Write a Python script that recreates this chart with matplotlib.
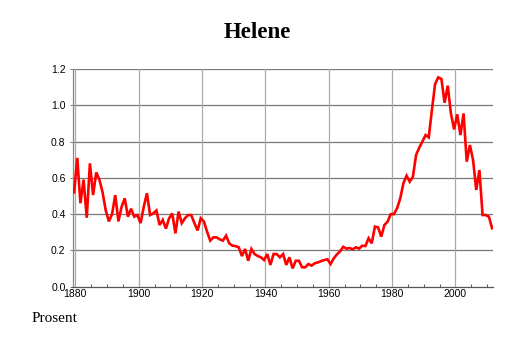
import matplotlib
matplotlib.use("Agg")
import matplotlib.pyplot as plt
from matplotlib.ticker import MultipleLocator, FixedLocator

title = "Helene"
ylabel_text = "Prosent"
years = list(range(1880, 2013))
values = [
    0.52, 0.71, 0.46, 0.59, 0.38, 0.68, 0.505, 0.63, 0.59, 0.52,
    0.42, 0.36, 0.40, 0.505, 0.36, 0.44, 0.487, 0.386, 0.43, 0.386,
    0.395, 0.35, 0.44, 0.515, 0.395, 0.404, 0.42, 0.34, 0.368, 0.32,
    0.377, 0.404, 0.294, 0.414, 0.35, 0.377, 0.395, 0.395, 0.35, 0.31,
    0.377, 0.359, 0.303, 0.254, 0.272, 0.272, 0.261, 0.254, 0.281, 0.239,
    0.226, 0.224, 0.217, 0.169, 0.208, 0.143, 0.208, 0.18, 0.169, 0.162,
    0.147, 0.18, 0.12, 0.18, 0.18, 0.162, 0.18, 0.12, 0.162, 0.101,
    0.143, 0.143, 0.107, 0.107, 0.125, 0.116, 0.129, 0.134, 0.141, 0.147,
    0.151, 0.125, 0.156, 0.178, 0.195, 0.22, 0.21, 0.213, 0.206, 0.217,
    0.21, 0.226, 0.224, 0.267, 0.239, 0.331, 0.327, 0.276, 0.34, 0.358,
    0.40, 0.40, 0.432, 0.487, 0.57, 0.612, 0.579, 0.606, 0.726, 0.766,
    0.80, 0.836, 0.823, 0.974, 1.117, 1.154, 1.145, 1.014, 1.108, 0.955,
    0.867, 0.95, 0.836, 0.955, 0.689, 0.781, 0.698, 0.533, 0.643, 0.395,
    0.395, 0.386, 0.322,
]
x_ticks = [1880, 1900, 1920, 1940, 1960, 1980, 2000]
y_ticks = [0.0, 0.2, 0.4, 0.6, 0.8, 1.0, 1.2]

fig = plt.figure(figsize=(5.14, 3.43), dpi=100)
ax = fig.add_axes([72.5 / 514, 1 - 286.7 / 343, (493.5 - 72.5) / 514, (286.7 - 69) / 343])

xs = [y - 0.4 for y in years]
ax.plot(xs, values, color="#ff0000", lw=1.9, solid_joinstyle="miter", zorder=3)

ax.set_xlim(1879.1, 2012.05)
ax.set_ylim(0, 1.2)

ax.xaxis.set_major_locator(FixedLocator(x_ticks))
ax.xaxis.set_minor_locator(MultipleLocator(5))
ax.yaxis.set_major_locator(FixedLocator(y_ticks))
ax.set_yticklabels([f"{v:.1f}" for v in y_ticks])

for y in y_ticks[1:]:
    ax.axhline(y, color="#777777", lw=0.9, zorder=1)
for x in x_ticks:
    ax.axvline(x, color="#aaaaaa", lw=0.9, zorder=1)

for s in ["top", "right"]:
    ax.spines[s].set_visible(False)
ax.spines["left"].set_color("#888888")
ax.spines["left"].set_linewidth(0.9)
ax.spines["bottom"].set_color("#555555")
ax.spines["bottom"].set_linewidth(0.9)

ax.tick_params(axis="x", which="major", length=0, pad=2)
ax.tick_params(axis="x", which="minor", direction="in", length=2, width=0.7, color="#555555")
ax.tick_params(axis="y", which="major", length=2, width=0.7, color="#777777", pad=3)
for lab in ax.get_xticklabels() + ax.get_yticklabels():
    lab.set_fontfamily("Liberation Sans")
    lab.set_fontsize(7.5)

fig.text(257 / 514, 1 - 33 / 343, title, ha="center", va="center",
         fontsize=16.5, fontweight="bold", family="Liberation Serif")
fig.text(32 / 514, 1 - 318 / 343, ylabel_text, ha="left", va="center",
         fontsize=11, family="Liberation Serif")

fig.savefig("out.png", dpi=100)
